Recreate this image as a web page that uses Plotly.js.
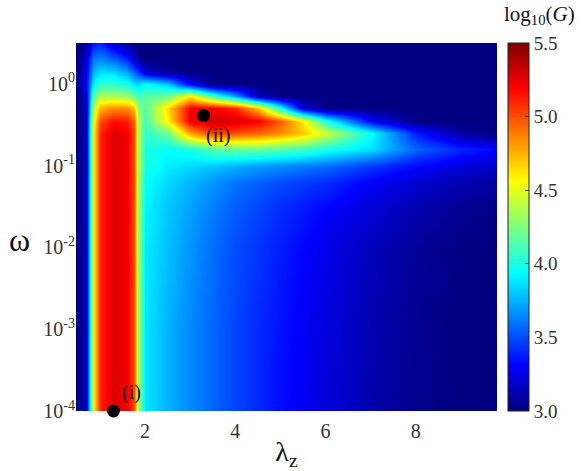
<!DOCTYPE html>
<html>
<head>
<meta charset="utf-8">
<script src="https://cdn.plot.ly/plotly-3.0.1.min.js"></script>
<style>
  html, body { margin: 0; padding: 0; background: #fff; }
  #plot { width: 583px; height: 471px; }
</style>
</head>
<body>
<div id="plot"></div>
<script>
// grid: lambda_z columns, omega rows, log10(G) per cell
var lambdaZ = [0.5, 0.7, 0.85, 1.0, 1.3, 1.6, 1.75, 1.85, 2.0, 2.5, 3.0, 3.5, 4.0, 4.5, 5.0, 5.5, 6.0, 7.0, 8.0, 9.0, 9.8];
var omega = [1e-4, 1e-3, 1e-2, 0.0316, 0.0631, 0.1, 0.158, 0.251, 0.355, 0.501, 0.708, 1.0, 1.41, 2.0, 3.16];

var row0  = [3.0, 3.15, 4.55, 5.1, 5.27, 5.22, 5.0, 4.35, 3.88, 3.75, 3.65, 3.56, 3.48, 3.41, 3.34, 3.28, 3.22, 3.11, 3.03, 3.0, 3.0];
var row1  = [3.0, 3.15, 4.55, 5.1, 5.27, 5.22, 5.0, 4.35, 3.88, 3.75, 3.65, 3.56, 3.48, 3.41, 3.35, 3.29, 3.23, 3.12, 3.04, 3.0, 3.0];
var row2  = [3.0, 3.15, 4.55, 5.1, 5.27, 5.22, 5.0, 4.35, 3.9, 3.78, 3.68, 3.58, 3.5, 3.44, 3.38, 3.32, 3.26, 3.15, 3.06, 3.01, 3.0];
var row3  = [3.0, 3.15, 4.55, 5.1, 5.27, 5.22, 5.0, 4.35, 3.92, 3.8, 3.71, 3.62, 3.54, 3.48, 3.42, 3.37, 3.32, 3.22, 3.12, 3.05, 3.02];
var row4  = [3.0, 3.15, 4.55, 5.1, 5.27, 5.22, 5.0, 4.37, 3.95, 3.84, 3.76, 3.68, 3.6, 3.55, 3.5, 3.46, 3.42, 3.3, 3.2, 3.12, 3.08];
var row5  = [3.0, 3.15, 4.55, 5.1, 5.27, 5.22, 5.0, 4.4, 4.0, 3.9, 3.85, 3.8, 3.75, 3.7, 3.66, 3.62, 3.58, 3.45, 3.33, 3.23, 3.18];
var row6  = [3.0, 3.15, 4.55, 5.1, 5.27, 5.22, 5.0, 4.4, 4.0, 3.95, 4.0, 4.15, 4.2, 4.2, 4.15, 4.1, 4.0, 3.86, 3.56, 3.4, 3.32];
var row7  = [3.0, 3.15, 4.55, 5.1, 5.27, 5.22, 5.0, 4.4, 4.05, 4.2, 4.8, 5.05, 5.0, 4.95, 4.85, 4.7, 4.45, 3.95, 3.38, 3.08, 3.0];
var row8  = [3.0, 3.15, 4.5, 5.0, 5.15, 5.12, 4.95, 4.4, 4.1, 4.6, 5.22, 5.3, 5.28, 5.2, 4.98, 4.6, 4.0, 3.3, 3.0, 3.0, 3.0];
var row9  = [3.0, 3.15, 4.35, 4.75, 4.85, 4.85, 4.7, 4.3, 4.15, 4.65, 5.2, 5.2, 5.1, 4.7, 4.0, 3.2, 3.02, 3.0, 3.0, 3.0, 3.0];
var row10 = [3.0, 3.2, 4.15, 4.35, 4.35, 4.3, 4.2, 4.1, 4.15, 4.2, 4.6, 4.1, 3.7, 3.15, 3.0, 3.0, 3.0, 3.0, 3.0, 3.0, 3.0];
var row11 = [3.0, 3.3, 3.9, 4.05, 4.05, 4.0, 3.85, 3.85, 3.95, 3.8, 3.3, 3.0, 3.0, 3.0, 3.0, 3.0, 3.0, 3.0, 3.0, 3.0, 3.0];
var row12 = [3.0, 3.25, 3.75, 3.85, 3.85, 3.7, 3.55, 3.45, 3.2, 3.05, 3.0, 3.0, 3.0, 3.0, 3.0, 3.0, 3.0, 3.0, 3.0, 3.0, 3.0];
var row13 = [3.0, 3.2, 3.6, 3.65, 3.55, 3.4, 3.2, 3.05, 3.0, 3.0, 3.0, 3.0, 3.0, 3.0, 3.0, 3.0, 3.0, 3.0, 3.0, 3.0, 3.0];
var row14 = [3.0, 3.05, 3.35, 3.4, 3.2, 3.05, 3.0, 3.0, 3.0, 3.0, 3.0, 3.0, 3.0, 3.0, 3.0, 3.0, 3.0, 3.0, 3.0, 3.0, 3.0];
var logG = [row0, row1, row2, row3, row4, row5, row6, row7, row8, row9, row10, row11, row12, row13, row14];

// marked points
var ptLambda = [1.3, 3.3];
var ptOmega = [1e-4, 0.41];
var ptLabel = ["(i)", "(ii)"];

var yTickVals = [1e-4, 1e-3, 1e-2, 1e-1, 1];
var yTickText = ["10<sup>-4</sup>", "10<sup>-3</sup>", "10<sup>-2</sup>", "10<sup>-1</sup>", "10<sup>0</sup>"];
var cbTickVals = [3.0, 3.5, 4.0, 4.5, 5.0, 5.5];
var cbTickText = ["3.0", "3.5", "4.0", "4.5", "5.0", "5.5"];

var jet = [
    [0, "#000080"], [0.125, "#0000ff"], [0.375, "#00ffff"],
    [0.625, "#ffff00"], [0.875, "#ff0000"], [1, "#800000"]
];

var serif = "Liberation Serif, Times New Roman, serif";

var heat = {
    type: "heatmap",
    x: lambdaZ,
    y: omega,
    z: logG,
    zmin: 3.0,
    zmax: 5.5,
    zsmooth: "best",
    colorscale: jet,
    colorbar: {
        x: 1.026, xanchor: "left", xpad: 0,
        y: 0, yanchor: "bottom", ypad: 0,
        len: 1, thickness: 21,
        outlinewidth: 1, outlinecolor: "#222",
        tickvals: cbTickVals, ticktext: cbTickText,
        ticks: "inside", ticklen: 4, tickcolor: "#444",
        tickfont: {family: serif, size: 19, color: "#333"}
    },
    hoverinfo: "skip"
};

var points = {
    type: "scatter",
    mode: "markers",
    x: ptLambda,
    y: ptOmega,
    marker: {color: "#000", size: 13},
    cliponaxis: false,
    showlegend: false
};

// point labels, offset from their points
var labelShiftX = [18, 14];
var labelShiftY = [19, -20];
var pointNotes = ptLabel.map(function (t, i) {
    return {
        text: t, x: ptLambda[i], y: Math.log10(ptOmega[i]),
        xref: "x", yref: "y", showarrow: false,
        xshift: labelShiftX[i], yshift: labelShiftY[i],
        font: {family: serif, size: 20, color: "#111"}
    };
});

var layout = {
    width: 583,
    height: 471,
    margin: {l: 76, r: 86, t: 43, b: 60},
    paper_bgcolor: "#fff",
    plot_bgcolor: "#000080",
    showlegend: false,
    xaxis: {
        range: [0.47, 9.8],
        tickvals: [2, 4, 6, 8],
        ticks: "", showgrid: false, zeroline: false, showline: false,
        ticklabelstandoff: 6,
        tickfont: {family: serif, size: 20, color: "#333"},
        title: {text: "λ<sub>z</sub>", font: {family: serif, size: 28, color: "#111"}, standoff: 4}
    },
    yaxis: {
        type: "log",
        range: [-4, 0.5],
        tickvals: yTickVals, ticktext: yTickText,
        ticks: "", showgrid: false, zeroline: false, showline: false,
        tickfont: {family: serif, size: 20, color: "#333"}
    },
    annotations: pointNotes.concat([{
        text: "ω", xref: "paper", yref: "paper", x: -0.165, y: 0.465,
        showarrow: false, font: {family: serif, size: 32, color: "#111"}
    }, {
        text: "log<sub>10</sub>(<i>G</i>)", xref: "paper", yref: "paper",
        x: 1.1, y: 1.075, xanchor: "center", yanchor: "middle",
        showarrow: false, font: {family: serif, size: 21, color: "#111"}
    }])
};

Plotly.newPlot("plot", [heat, points], layout, {displayModeBar: false, staticPlot: true});
</script>
</body>
</html>
